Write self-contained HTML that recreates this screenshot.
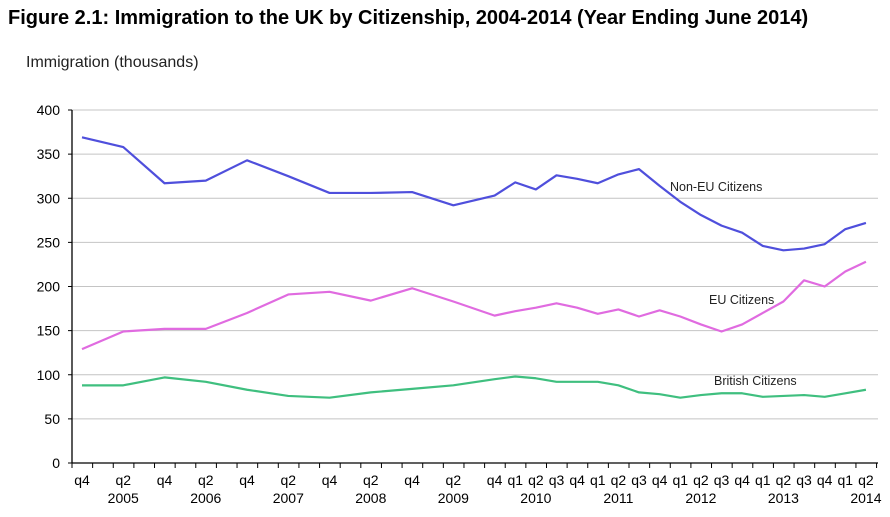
<!DOCTYPE html>
<html><head><meta charset="utf-8"><style>
body{margin:0;background:#fff;font-family:"Liberation Sans",Arial,sans-serif}
svg{display:block}
</style></head><body>
<svg width="890" height="517" xmlns="http://www.w3.org/2000/svg">
<text x="8" y="24" font-size="20" font-weight="bold" fill="#000">Figure 2.1: Immigration to the UK by Citizenship, 2004-2014 (Year Ending June 2014)</text>
<text x="26" y="67" font-size="16" fill="#222">Immigration (thousands)</text>
<g id="grid"></g><g id="axes"></g><g id="series"></g><g id="labels"></g>
</svg>
<script>
const yTicks=[0,50,100,150,200,250,300,350,400];
const pointIdx=[0,2,4,6,8,10,12,14,16,18,20,21,22,23,24,25,26,27,28,29,30,31,32,33,34,35,36,37,38];
const nonEU=[369,358,317,320,343,325,306,306,307,292,303,318,310,326,322,317,327,333,314,296,281,269,261,246,241,243,248,265,272];
const eu=[129,149,152,152,170,191,194,184,198,183,167,172,176,181,176,169,174,166,173,166,157,149,157,170,183,207,200,217,228];
const british=[88,88,97,92,83,76,74,80,84,88,95,98,96,92,92,92,88,80,78,74,77,79,79,75,76,77,75,79,83];
const qLabels=["q4","","q2","","q4","","q2","","q4","","q2","","q4","","q2","","q4","","q2","","q4","q1","q2","q3","q4","q1","q2","q3","q4","q1","q2","q3","q4","q1","q2","q3","q4","q1","q2"];
const yearLabels=[[2,"2005"],[6,"2006"],[10,"2007"],[14,"2008"],[18,"2009"],[22,"2010"],[26,"2011"],[30,"2012"],[34,"2013"],[38,"2014"]];
const NS="http://www.w3.org/2000/svg";
const X0=72,X1=878,Y0=463,Ytop=110;
const xs=i=>82+i*20.63;
const ys=v=>Y0-(v/400)*(Y0-Ytop);
function mk(tag,attrs,parent,text){const e=document.createElementNS(NS,tag);for(const k in attrs)e.setAttribute(k,attrs[k]);if(text!==undefined)e.textContent=text;parent.appendChild(e);return e;}
const grid=document.getElementById('grid'),axes=document.getElementById('axes'),ser=document.getElementById('series'),lab=document.getElementById('labels');
yTicks.forEach(v=>{
 if(v>0){const g=mk('line',{x1:X0,x2:X1,y1:ys(v),y2:ys(v),stroke:'#c4c4c4','stroke-width':1},grid);
 
 }
 const t=mk('text',{x:60,y:ys(v)+5,'text-anchor':'end','font-size':14,fill:'#000'},axes,String(v));
 
 
 mk('line',{x1:X0-4,x2:X0,y1:ys(v),y2:ys(v),stroke:'#000'},axes);
});
const ya=mk('line',{x1:X0,x2:X0,y1:Ytop,y2:Y0,stroke:'#000','stroke-width':1.3},axes);


const xa=mk('line',{x1:X0,x2:X1,y1:Y0,y2:Y0,stroke:'#000','stroke-width':1.3},axes);


for(let i=0;i<=39;i++){const x=X0+i*20.63;mk('line',{x1:x,x2:x,y1:Y0,y2:Y0+5,stroke:'#000'},axes);}
qLabels.forEach((q,i)=>{if(!q)return;const t=mk('text',{x:xs(i),y:485,'text-anchor':'middle','font-size':14,fill:'#000'},axes,q);
 
 });
yearLabels.forEach(([i,y])=>{const t=mk('text',{x:xs(i),y:503,'text-anchor':'middle','font-size':14,fill:'#000'},axes,y);
 
 });
function line(vals,color,name){const p=mk('polyline',{points:vals.map((v,k)=>xs(pointIdx[k])+','+ys(v)).join(' '),fill:'none',stroke:color,'stroke-width':2.2,'stroke-linejoin':'round'},ser);
 
 }
line(nonEU,'#4f4fdc','non-eu-line');
line(eu,'#e06be0','eu-line');
line(british,'#3fbf7f','british-line');
[[670,191,'Non-EU Citizens','non-eu-label'],[709,304,'EU Citizens','eu-label'],[714,385,'British Citizens','british-label']].forEach(([x,y,t,n])=>{
 const e=mk('text',{x:x,y:y,'font-size':12.5,fill:'#222'},lab,t);
 
 });
</script>
</body></html>
